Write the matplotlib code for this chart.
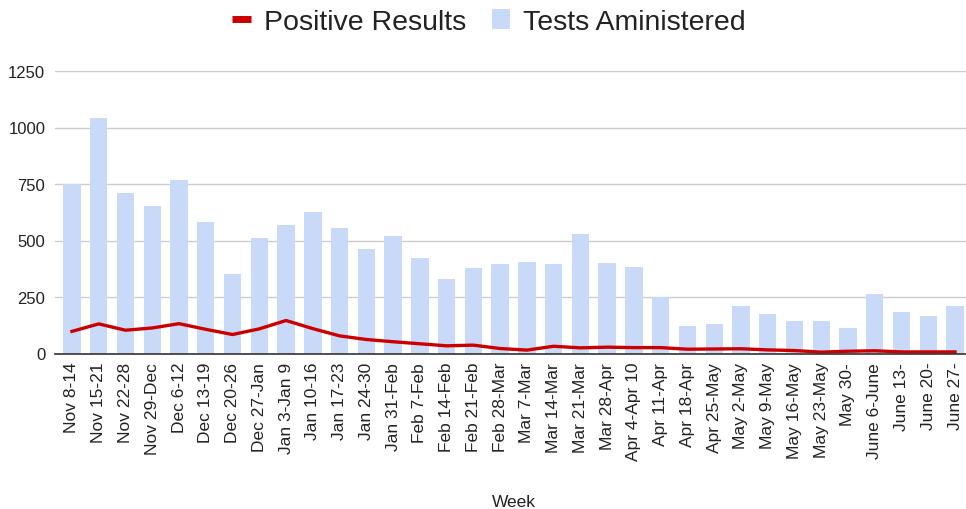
import matplotlib
matplotlib.use("Agg")
import matplotlib.pyplot as plt
from matplotlib.lines import Line2D
from matplotlib.patches import Patch

weeks = ["Nov 8-14", "Nov 15-21", "Nov 22-28", "Nov 29-Dec", "Dec 6-12", "Dec 13-19",
         "Dec 20-26", "Dec 27-Jan", "Jan 3-Jan 9", "Jan 10-16", "Jan 17-23", "Jan 24-30",
         "Jan 31-Feb", "Feb 7-Feb", "Feb 14-Feb", "Feb 21-Feb", "Feb 28-Mar", "Mar 7-Mar",
         "Mar 14-Mar", "Mar 21-Mar", "Mar 28-Apr", "Apr 4-Apr 10", "Apr 11-Apr", "Apr 18-Apr",
         "Apr 25-May", "May 2-May", "May 9-May", "May 16-May", "May 23-May", "May 30-",
         "June 6-June", "June 13-", "June 20-", "June 27-"]
tests = [748, 1041, 711, 653, 766, 581, 351, 509, 568, 626, 554, 463, 522, 423, 331, 378,
         394, 406, 394, 527, 402, 381, 248, 123, 130, 208, 176, 143, 143, 111, 262, 182, 164, 208]
positives = [98, 131, 103, 113, 132, 107, 84, 109, 146, 110, 78, 62, 52, 43, 34, 37,
             22, 15, 32, 25, 28, 26, 26, 19, 20, 21, 16, 13, 6, 10, 12, 7, 7, 7]
yticks = [0, 250, 500, 750, 1000, 1250]

plt.rcParams["font.family"] = ["Liberation Sans", "DejaVu Sans"]
text_color = "#222222"
bar_color = "#c9daf8"
line_color = "#cc0000"

fig = plt.figure(figsize=(9.66, 5.10), dpi=100)
ax = fig.add_axes([55 / 966, 1 - 354.5 / 510, 1 - 55 / 966, (354.5 - 72) / 510])

x = list(range(len(weeks)))
ax.bar(x, tests, width=0.65, color=bar_color, zorder=2)
ax.plot(x, positives, color=line_color, lw=2.4, zorder=3, solid_joinstyle="round")

ax.set_xlim(-0.635, len(weeks) - 1 + 0.41)
ax.set_ylim(0, 1250)
ax.set_yticks(yticks)
ax.set_yticklabels([str(v) for v in yticks])
ax.set_xticks(x)
ax.set_xticklabels(weeks, rotation=90, ha="center", va="top")
ax.tick_params(axis="x", length=0, pad=6, labelsize=12.5, labelcolor=text_color)
ax.tick_params(axis="y", length=0, pad=7, labelsize=12, labelcolor=text_color)

ax.grid(axis="y", color="#cccccc", lw=1, zorder=0)
ax.set_axisbelow(True)
for side in ["top", "right", "left"]:
    ax.spines[side].set_visible(False)
ax.spines["bottom"].set_color("#333333")
ax.spines["bottom"].set_linewidth(1.2)
ax.spines["bottom"].set_zorder(4)

fig.text(514 / 966, 1 - 503 / 510, "Week", ha="center", va="center",
         fontsize=12.5, color=text_color)

handles = [Line2D([0], [0], color=line_color, lw=5, solid_capstyle="butt"),
           Patch(facecolor=bar_color, edgecolor="none")]
fig.legend(handles, ["Positive Results", "Tests Aministered"], loc="center",
           bbox_to_anchor=(489 / 966, 1 - 23 / 510), ncol=2, frameon=False,
           fontsize=20.5, handlelength=0.65, handleheight=0.65, handletextpad=0.45,
           columnspacing=0.9, labelcolor=text_color, borderpad=0, borderaxespad=0)

fig.savefig("out.png", dpi=100)
